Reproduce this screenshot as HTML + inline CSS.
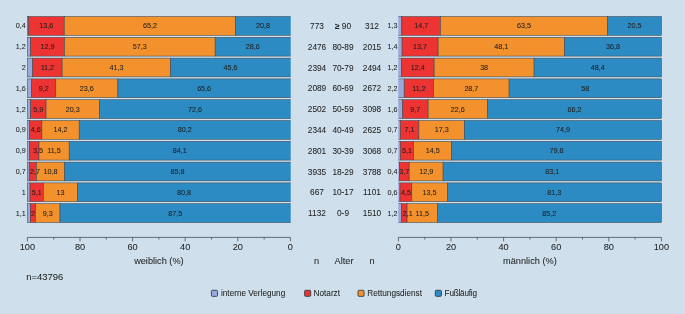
<!DOCTYPE html><html><head><meta charset="utf-8"><title>Chart</title><style>html,body{margin:0;padding:0;background:#cfe0ec}svg{display:block}text{font-family:"Liberation Sans",Arial,Helvetica,sans-serif;fill:#1f1f1f;stroke:#1f1f1f;stroke-width:0.06px}</style></head><body>
<svg width="685" height="314" viewBox="0 0 685 314">
<rect width="685" height="314" fill="#cfe0ec"/>
<defs><clipPath id="cl"><rect x="0" y="0" width="290.70" height="314"/></clipPath><clipPath id="cr"><rect x="398.30" y="0" width="400" height="314"/></clipPath></defs>
<g opacity="0.999">
<g clip-path="url(#cl)">
<rect x="27.40" y="16.50" width="1.05" height="18.80" fill="#98aadb" stroke="#3c4650" stroke-width="0.55"/>
<rect x="28.45" y="16.50" width="35.77" height="18.80" fill="#ee3333" stroke="#3c4650" stroke-width="0.55"/>
<rect x="64.22" y="16.50" width="171.48" height="18.80" fill="#f3912c" stroke="#3c4650" stroke-width="0.55"/>
<rect x="235.70" y="16.50" width="57.70" height="18.80" fill="#2d8bc4" stroke="#3c4650" stroke-width="0.55"/>
<rect x="27.40" y="37.30" width="3.16" height="18.80" fill="#98aadb" stroke="#3c4650" stroke-width="0.55"/>
<rect x="30.56" y="37.30" width="33.93" height="18.80" fill="#ee3333" stroke="#3c4650" stroke-width="0.55"/>
<rect x="64.48" y="37.30" width="150.70" height="18.80" fill="#f3912c" stroke="#3c4650" stroke-width="0.55"/>
<rect x="215.18" y="37.30" width="78.22" height="18.80" fill="#2d8bc4" stroke="#3c4650" stroke-width="0.55"/>
<rect x="27.40" y="58.10" width="5.26" height="18.80" fill="#98aadb" stroke="#3c4650" stroke-width="0.55"/>
<rect x="32.66" y="58.10" width="29.46" height="18.80" fill="#ee3333" stroke="#3c4650" stroke-width="0.55"/>
<rect x="62.12" y="58.10" width="108.62" height="18.80" fill="#f3912c" stroke="#3c4650" stroke-width="0.55"/>
<rect x="170.74" y="58.10" width="122.66" height="18.80" fill="#2d8bc4" stroke="#3c4650" stroke-width="0.55"/>
<rect x="27.40" y="78.90" width="4.21" height="18.80" fill="#98aadb" stroke="#3c4650" stroke-width="0.55"/>
<rect x="31.61" y="78.90" width="24.20" height="18.80" fill="#ee3333" stroke="#3c4650" stroke-width="0.55"/>
<rect x="55.80" y="78.90" width="62.07" height="18.80" fill="#f3912c" stroke="#3c4650" stroke-width="0.55"/>
<rect x="117.87" y="78.90" width="175.53" height="18.80" fill="#2d8bc4" stroke="#3c4650" stroke-width="0.55"/>
<rect x="27.40" y="99.70" width="3.16" height="18.80" fill="#98aadb" stroke="#3c4650" stroke-width="0.55"/>
<rect x="30.56" y="99.70" width="15.52" height="18.80" fill="#ee3333" stroke="#3c4650" stroke-width="0.55"/>
<rect x="46.07" y="99.70" width="53.39" height="18.80" fill="#f3912c" stroke="#3c4650" stroke-width="0.55"/>
<rect x="99.46" y="99.70" width="193.94" height="18.80" fill="#2d8bc4" stroke="#3c4650" stroke-width="0.55"/>
<rect x="27.40" y="120.50" width="2.37" height="18.80" fill="#98aadb" stroke="#3c4650" stroke-width="0.55"/>
<rect x="29.77" y="120.50" width="12.10" height="18.80" fill="#ee3333" stroke="#3c4650" stroke-width="0.55"/>
<rect x="41.86" y="120.50" width="37.35" height="18.80" fill="#f3912c" stroke="#3c4650" stroke-width="0.55"/>
<rect x="79.21" y="120.50" width="214.19" height="18.80" fill="#2d8bc4" stroke="#3c4650" stroke-width="0.55"/>
<rect x="27.40" y="141.30" width="2.37" height="18.80" fill="#98aadb" stroke="#3c4650" stroke-width="0.55"/>
<rect x="29.77" y="141.30" width="9.21" height="18.80" fill="#ee3333" stroke="#3c4650" stroke-width="0.55"/>
<rect x="38.97" y="141.30" width="30.24" height="18.80" fill="#f3912c" stroke="#3c4650" stroke-width="0.55"/>
<rect x="69.22" y="141.30" width="224.18" height="18.80" fill="#2d8bc4" stroke="#3c4650" stroke-width="0.55"/>
<rect x="27.40" y="162.10" width="1.84" height="18.80" fill="#98aadb" stroke="#3c4650" stroke-width="0.55"/>
<rect x="29.24" y="162.10" width="7.10" height="18.80" fill="#ee3333" stroke="#3c4650" stroke-width="0.55"/>
<rect x="36.34" y="162.10" width="28.40" height="18.80" fill="#f3912c" stroke="#3c4650" stroke-width="0.55"/>
<rect x="64.75" y="162.10" width="228.65" height="18.80" fill="#2d8bc4" stroke="#3c4650" stroke-width="0.55"/>
<rect x="27.40" y="182.90" width="2.63" height="18.80" fill="#98aadb" stroke="#3c4650" stroke-width="0.55"/>
<rect x="30.03" y="182.90" width="13.41" height="18.80" fill="#ee3333" stroke="#3c4650" stroke-width="0.55"/>
<rect x="43.44" y="182.90" width="34.19" height="18.80" fill="#f3912c" stroke="#3c4650" stroke-width="0.55"/>
<rect x="77.63" y="182.90" width="215.77" height="18.80" fill="#2d8bc4" stroke="#3c4650" stroke-width="0.55"/>
<rect x="27.40" y="203.70" width="2.89" height="18.80" fill="#98aadb" stroke="#3c4650" stroke-width="0.55"/>
<rect x="30.29" y="203.70" width="5.26" height="18.80" fill="#ee3333" stroke="#3c4650" stroke-width="0.55"/>
<rect x="35.55" y="203.70" width="24.46" height="18.80" fill="#f3912c" stroke="#3c4650" stroke-width="0.55"/>
<rect x="60.01" y="203.70" width="233.39" height="18.80" fill="#2d8bc4" stroke="#3c4650" stroke-width="0.55"/>
</g>
<text x="25.70" y="28.40" font-size="7.2" text-anchor="end">0,4</text>
<text x="46.34" y="28.40" font-size="7.2" text-anchor="middle">13,6</text>
<text x="149.96" y="28.40" font-size="7.2" text-anchor="middle">65,2</text>
<text x="263.05" y="28.40" font-size="7.2" text-anchor="middle">20,8</text>
<text x="25.70" y="49.20" font-size="7.2" text-anchor="end">1,2</text>
<text x="47.52" y="49.20" font-size="7.2" text-anchor="middle">12,9</text>
<text x="139.83" y="49.20" font-size="7.2" text-anchor="middle">57,3</text>
<text x="252.79" y="49.20" font-size="7.2" text-anchor="middle">28,6</text>
<text x="25.70" y="70.00" font-size="7.2" text-anchor="end">2</text>
<text x="47.39" y="70.00" font-size="7.2" text-anchor="middle">11,2</text>
<text x="116.43" y="70.00" font-size="7.2" text-anchor="middle">41,3</text>
<text x="230.57" y="70.00" font-size="7.2" text-anchor="middle">45,6</text>
<text x="25.70" y="90.80" font-size="7.2" text-anchor="end">1,6</text>
<text x="43.71" y="90.80" font-size="7.2" text-anchor="middle">9,2</text>
<text x="86.84" y="90.80" font-size="7.2" text-anchor="middle">23,6</text>
<text x="204.14" y="90.80" font-size="7.2" text-anchor="middle">65,6</text>
<text x="25.70" y="111.60" font-size="7.2" text-anchor="end">1,2</text>
<text x="38.31" y="111.60" font-size="7.2" text-anchor="middle">5,9</text>
<text x="72.77" y="111.60" font-size="7.2" text-anchor="middle">20,3</text>
<text x="194.93" y="111.60" font-size="7.2" text-anchor="middle">72,6</text>
<text x="25.70" y="132.40" font-size="7.2" text-anchor="end">0,9</text>
<text x="35.82" y="132.40" font-size="7.2" text-anchor="middle">4,6</text>
<text x="60.54" y="132.40" font-size="7.2" text-anchor="middle">14,2</text>
<text x="184.81" y="132.40" font-size="7.2" text-anchor="middle">80,2</text>
<text x="25.70" y="153.20" font-size="7.2" text-anchor="end">0,9</text>
<text x="37.90" y="153.20" font-size="7.2" text-anchor="middle">3,5</text>
<text x="54.09" y="153.20" font-size="7.2" text-anchor="middle">11,5</text>
<text x="179.81" y="153.20" font-size="7.2" text-anchor="middle">84,1</text>
<text x="25.70" y="174.00" font-size="7.2" text-anchor="end">0,7</text>
<text x="34.95" y="174.00" font-size="7.2" text-anchor="middle">2,7</text>
<text x="50.54" y="174.00" font-size="7.2" text-anchor="middle">10,8</text>
<text x="177.57" y="174.00" font-size="7.2" text-anchor="middle">85,8</text>
<text x="25.70" y="194.80" font-size="7.2" text-anchor="end">1</text>
<text x="36.74" y="194.80" font-size="7.2" text-anchor="middle">5,1</text>
<text x="60.54" y="194.80" font-size="7.2" text-anchor="middle">13</text>
<text x="184.02" y="194.80" font-size="7.2" text-anchor="middle">80,8</text>
<text x="25.70" y="215.60" font-size="7.2" text-anchor="end">1,1</text>
<text x="32.92" y="215.60" font-size="7.2" text-anchor="middle">2</text>
<text x="47.78" y="215.60" font-size="7.2" text-anchor="middle">9,3</text>
<text x="175.21" y="215.60" font-size="7.2" text-anchor="middle">87,5</text>
<g clip-path="url(#cr)">
<rect x="395.40" y="16.50" width="6.42" height="18.80" fill="#98aadb" stroke="#3c4650" stroke-width="0.55"/>
<rect x="401.82" y="16.50" width="38.66" height="18.80" fill="#ee3333" stroke="#3c4650" stroke-width="0.55"/>
<rect x="440.48" y="16.50" width="167.00" height="18.80" fill="#f3912c" stroke="#3c4650" stroke-width="0.55"/>
<rect x="607.48" y="16.50" width="53.92" height="18.80" fill="#2d8bc4" stroke="#3c4650" stroke-width="0.55"/>
<rect x="395.40" y="37.30" width="6.68" height="18.80" fill="#98aadb" stroke="#3c4650" stroke-width="0.55"/>
<rect x="402.08" y="37.30" width="36.03" height="18.80" fill="#ee3333" stroke="#3c4650" stroke-width="0.55"/>
<rect x="438.11" y="37.30" width="126.50" height="18.80" fill="#f3912c" stroke="#3c4650" stroke-width="0.55"/>
<rect x="564.62" y="37.30" width="96.78" height="18.80" fill="#2d8bc4" stroke="#3c4650" stroke-width="0.55"/>
<rect x="395.40" y="58.10" width="6.16" height="18.80" fill="#98aadb" stroke="#3c4650" stroke-width="0.55"/>
<rect x="401.56" y="58.10" width="32.61" height="18.80" fill="#ee3333" stroke="#3c4650" stroke-width="0.55"/>
<rect x="434.17" y="58.10" width="99.94" height="18.80" fill="#f3912c" stroke="#3c4650" stroke-width="0.55"/>
<rect x="534.11" y="58.10" width="127.29" height="18.80" fill="#2d8bc4" stroke="#3c4650" stroke-width="0.55"/>
<rect x="395.40" y="78.90" width="8.79" height="18.80" fill="#98aadb" stroke="#3c4650" stroke-width="0.55"/>
<rect x="404.19" y="78.90" width="29.46" height="18.80" fill="#ee3333" stroke="#3c4650" stroke-width="0.55"/>
<rect x="433.64" y="78.90" width="75.48" height="18.80" fill="#f3912c" stroke="#3c4650" stroke-width="0.55"/>
<rect x="509.12" y="78.90" width="152.28" height="18.80" fill="#2d8bc4" stroke="#3c4650" stroke-width="0.55"/>
<rect x="395.40" y="99.70" width="7.21" height="18.80" fill="#98aadb" stroke="#3c4650" stroke-width="0.55"/>
<rect x="402.61" y="99.70" width="25.51" height="18.80" fill="#ee3333" stroke="#3c4650" stroke-width="0.55"/>
<rect x="428.12" y="99.70" width="59.44" height="18.80" fill="#f3912c" stroke="#3c4650" stroke-width="0.55"/>
<rect x="487.56" y="99.70" width="173.84" height="18.80" fill="#2d8bc4" stroke="#3c4650" stroke-width="0.55"/>
<rect x="395.40" y="120.50" width="4.84" height="18.80" fill="#98aadb" stroke="#3c4650" stroke-width="0.55"/>
<rect x="400.24" y="120.50" width="18.67" height="18.80" fill="#ee3333" stroke="#3c4650" stroke-width="0.55"/>
<rect x="418.91" y="120.50" width="45.50" height="18.80" fill="#f3912c" stroke="#3c4650" stroke-width="0.55"/>
<rect x="464.41" y="120.50" width="196.99" height="18.80" fill="#2d8bc4" stroke="#3c4650" stroke-width="0.55"/>
<rect x="395.40" y="141.30" width="4.84" height="18.80" fill="#98aadb" stroke="#3c4650" stroke-width="0.55"/>
<rect x="400.24" y="141.30" width="13.41" height="18.80" fill="#ee3333" stroke="#3c4650" stroke-width="0.55"/>
<rect x="413.65" y="141.30" width="38.13" height="18.80" fill="#f3912c" stroke="#3c4650" stroke-width="0.55"/>
<rect x="451.79" y="141.30" width="209.61" height="18.80" fill="#2d8bc4" stroke="#3c4650" stroke-width="0.55"/>
<rect x="395.40" y="162.10" width="4.05" height="18.80" fill="#98aadb" stroke="#3c4650" stroke-width="0.55"/>
<rect x="399.45" y="162.10" width="9.73" height="18.80" fill="#ee3333" stroke="#3c4650" stroke-width="0.55"/>
<rect x="409.18" y="162.10" width="33.93" height="18.80" fill="#f3912c" stroke="#3c4650" stroke-width="0.55"/>
<rect x="443.11" y="162.10" width="218.29" height="18.80" fill="#2d8bc4" stroke="#3c4650" stroke-width="0.55"/>
<rect x="395.40" y="182.90" width="4.58" height="18.80" fill="#98aadb" stroke="#3c4650" stroke-width="0.55"/>
<rect x="399.98" y="182.90" width="11.84" height="18.80" fill="#ee3333" stroke="#3c4650" stroke-width="0.55"/>
<rect x="411.81" y="182.90" width="35.50" height="18.80" fill="#f3912c" stroke="#3c4650" stroke-width="0.55"/>
<rect x="447.32" y="182.90" width="214.08" height="18.80" fill="#2d8bc4" stroke="#3c4650" stroke-width="0.55"/>
<rect x="395.40" y="203.70" width="6.16" height="18.80" fill="#98aadb" stroke="#3c4650" stroke-width="0.55"/>
<rect x="401.56" y="203.70" width="5.52" height="18.80" fill="#ee3333" stroke="#3c4650" stroke-width="0.55"/>
<rect x="407.08" y="203.70" width="30.25" height="18.80" fill="#f3912c" stroke="#3c4650" stroke-width="0.55"/>
<rect x="437.32" y="203.70" width="224.08" height="18.80" fill="#2d8bc4" stroke="#3c4650" stroke-width="0.55"/>
</g>
<text x="397.40" y="28.40" font-size="7.2" text-anchor="end">1,3</text>
<text x="421.15" y="28.40" font-size="7.2" text-anchor="middle">14,7</text>
<text x="523.98" y="28.40" font-size="7.2" text-anchor="middle">63,5</text>
<text x="634.44" y="28.40" font-size="7.2" text-anchor="middle">20,5</text>
<text x="397.40" y="49.20" font-size="7.2" text-anchor="end">1,4</text>
<text x="420.10" y="49.20" font-size="7.2" text-anchor="middle">13,7</text>
<text x="501.36" y="49.20" font-size="7.2" text-anchor="middle">48,1</text>
<text x="613.01" y="49.20" font-size="7.2" text-anchor="middle">36,8</text>
<text x="397.40" y="70.00" font-size="7.2" text-anchor="end">1,2</text>
<text x="417.86" y="70.00" font-size="7.2" text-anchor="middle">12,4</text>
<text x="484.14" y="70.00" font-size="7.2" text-anchor="middle">38</text>
<text x="597.75" y="70.00" font-size="7.2" text-anchor="middle">48,4</text>
<text x="397.40" y="90.80" font-size="7.2" text-anchor="end">2,2</text>
<text x="418.91" y="90.80" font-size="7.2" text-anchor="middle">11,2</text>
<text x="471.38" y="90.80" font-size="7.2" text-anchor="middle">28,7</text>
<text x="585.26" y="90.80" font-size="7.2" text-anchor="middle">58</text>
<text x="397.40" y="111.60" font-size="7.2" text-anchor="end">1,6</text>
<text x="415.36" y="111.60" font-size="7.2" text-anchor="middle">9,7</text>
<text x="457.84" y="111.60" font-size="7.2" text-anchor="middle">22,6</text>
<text x="574.48" y="111.60" font-size="7.2" text-anchor="middle">66,2</text>
<text x="397.40" y="132.40" font-size="7.2" text-anchor="end">0,7</text>
<text x="409.58" y="132.40" font-size="7.2" text-anchor="middle">7,1</text>
<text x="441.66" y="132.40" font-size="7.2" text-anchor="middle">17,3</text>
<text x="562.91" y="132.40" font-size="7.2" text-anchor="middle">74,9</text>
<text x="397.40" y="153.20" font-size="7.2" text-anchor="end">0,7</text>
<text x="406.95" y="153.20" font-size="7.2" text-anchor="middle">5,1</text>
<text x="432.72" y="153.20" font-size="7.2" text-anchor="middle">14,5</text>
<text x="556.59" y="153.20" font-size="7.2" text-anchor="middle">79,8</text>
<text x="397.40" y="174.00" font-size="7.2" text-anchor="end">0,4</text>
<text x="404.32" y="174.00" font-size="7.2" text-anchor="middle">3,7</text>
<text x="426.15" y="174.00" font-size="7.2" text-anchor="middle">12,9</text>
<text x="552.25" y="174.00" font-size="7.2" text-anchor="middle">83,1</text>
<text x="397.40" y="194.80" font-size="7.2" text-anchor="end">0,6</text>
<text x="405.90" y="194.80" font-size="7.2" text-anchor="middle">4,5</text>
<text x="429.57" y="194.80" font-size="7.2" text-anchor="middle">13,5</text>
<text x="554.36" y="194.80" font-size="7.2" text-anchor="middle">81,3</text>
<text x="397.40" y="215.60" font-size="7.2" text-anchor="end">1,2</text>
<text x="407.70" y="215.60" font-size="7.2" text-anchor="middle">2,1</text>
<text x="422.20" y="215.60" font-size="7.2" text-anchor="middle">11,5</text>
<text x="549.36" y="215.60" font-size="7.2" text-anchor="middle">85,2</text>
<text x="317" y="28.90" font-size="8.3" text-anchor="middle">773</text>
<text x="343" y="28.90" font-size="8.3" text-anchor="middle"><tspan font-weight="bold">≥</tspan> 90</text>
<text x="372" y="28.90" font-size="8.3" text-anchor="middle">312</text>
<text x="317" y="49.70" font-size="8.3" text-anchor="middle">2476</text>
<text x="343" y="49.70" font-size="8.3" text-anchor="middle">80-89</text>
<text x="372" y="49.70" font-size="8.3" text-anchor="middle">2015</text>
<text x="317" y="70.50" font-size="8.3" text-anchor="middle">2394</text>
<text x="343" y="70.50" font-size="8.3" text-anchor="middle">70-79</text>
<text x="372" y="70.50" font-size="8.3" text-anchor="middle">2494</text>
<text x="317" y="91.30" font-size="8.3" text-anchor="middle">2089</text>
<text x="343" y="91.30" font-size="8.3" text-anchor="middle">60-69</text>
<text x="372" y="91.30" font-size="8.3" text-anchor="middle">2672</text>
<text x="317" y="112.10" font-size="8.3" text-anchor="middle">2502</text>
<text x="343" y="112.10" font-size="8.3" text-anchor="middle">50-59</text>
<text x="372" y="112.10" font-size="8.3" text-anchor="middle">3098</text>
<text x="317" y="132.90" font-size="8.3" text-anchor="middle">2344</text>
<text x="343" y="132.90" font-size="8.3" text-anchor="middle">40-49</text>
<text x="372" y="132.90" font-size="8.3" text-anchor="middle">2625</text>
<text x="317" y="153.70" font-size="8.3" text-anchor="middle">2801</text>
<text x="343" y="153.70" font-size="8.3" text-anchor="middle">30-39</text>
<text x="372" y="153.70" font-size="8.3" text-anchor="middle">3068</text>
<text x="317" y="174.50" font-size="8.3" text-anchor="middle">3935</text>
<text x="343" y="174.50" font-size="8.3" text-anchor="middle">18-29</text>
<text x="372" y="174.50" font-size="8.3" text-anchor="middle">3788</text>
<text x="317" y="195.30" font-size="8.3" text-anchor="middle">667</text>
<text x="343" y="195.30" font-size="8.3" text-anchor="middle">10-17</text>
<text x="372" y="195.30" font-size="8.3" text-anchor="middle">1101</text>
<text x="317" y="216.10" font-size="8.3" text-anchor="middle">1132</text>
<text x="343" y="216.10" font-size="8.3" text-anchor="middle">0-9</text>
<text x="372" y="216.10" font-size="8.3" text-anchor="middle">1510</text>
<path d="M27.40 241.40V237.40H290.40V241.40M53.70 237.40v2.20M80.00 237.40v4.00M106.30 237.40v2.20M132.60 237.40v4.00M158.90 237.40v2.20M185.20 237.40v4.00M211.50 237.40v2.20M237.80 237.40v4.00M264.10 237.40v2.20" fill="none" stroke="#4a4f55" stroke-width="0.8"/>
<text x="27.40" y="250" font-size="9.2" text-anchor="middle">100</text>
<text x="80.00" y="250" font-size="9.2" text-anchor="middle">80</text>
<text x="132.60" y="250" font-size="9.2" text-anchor="middle">60</text>
<text x="185.20" y="250" font-size="9.2" text-anchor="middle">40</text>
<text x="237.80" y="250" font-size="9.2" text-anchor="middle">20</text>
<text x="290.40" y="250" font-size="9.2" text-anchor="middle">0</text>
<path d="M398.40 241.40V237.40H661.40V241.40M424.70 237.40v2.20M451.00 237.40v4.00M477.30 237.40v2.20M503.60 237.40v4.00M529.90 237.40v2.20M556.20 237.40v4.00M582.50 237.40v2.20M608.80 237.40v4.00M635.10 237.40v2.20" fill="none" stroke="#4a4f55" stroke-width="0.8"/>
<text x="398.40" y="250" font-size="9.2" text-anchor="middle">0</text>
<text x="451.00" y="250" font-size="9.2" text-anchor="middle">20</text>
<text x="503.60" y="250" font-size="9.2" text-anchor="middle">40</text>
<text x="556.20" y="250" font-size="9.2" text-anchor="middle">60</text>
<text x="608.80" y="250" font-size="9.2" text-anchor="middle">80</text>
<text x="661.40" y="250" font-size="9.2" text-anchor="middle">100</text>
<text x="158.90" y="263.6" font-size="9.2" text-anchor="middle">weiblich (%)</text>
<text x="529.90" y="263.6" font-size="9.2" text-anchor="middle">männlich (%)</text>
<text x="316.6" y="263.6" font-size="9.2" text-anchor="middle">n</text>
<text x="344" y="263.6" font-size="9.2" text-anchor="middle">Alter</text>
<text x="372.1" y="263.6" font-size="9.2" text-anchor="middle">n</text>
<text x="26.2" y="280.4" font-size="9.45">n=43796</text>
<rect x="211.40" y="290.25" width="6.1" height="6.1" rx="1" fill="#98aadb" stroke="#2e3640" stroke-width="0.85"/>
<text x="221.00" y="295.55" font-size="8.20">interne Verlegung</text>
<rect x="304.60" y="290.25" width="6.1" height="6.1" rx="1" fill="#ee3333" stroke="#2e3640" stroke-width="0.85"/>
<text x="313.60" y="295.55" font-size="8.20">Notarzt</text>
<rect x="358.00" y="290.25" width="6.1" height="6.1" rx="1" fill="#f3912c" stroke="#2e3640" stroke-width="0.85"/>
<text x="367.30" y="295.55" font-size="8.20">Rettungsdienst</text>
<rect x="435.30" y="290.25" width="6.1" height="6.1" rx="1" fill="#2d8bc4" stroke="#2e3640" stroke-width="0.85"/>
<text x="444.60" y="295.55" font-size="8.20" letter-spacing="-0.22">Fußläufig</text>
</g>
</svg></body></html>
